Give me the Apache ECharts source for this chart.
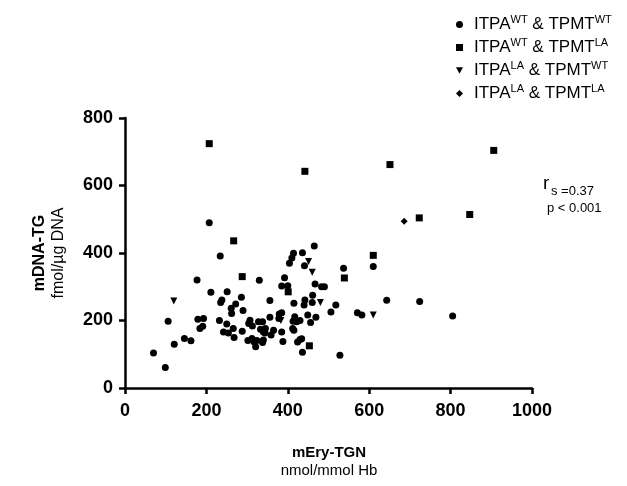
<!DOCTYPE html>
<html>
<head>
<meta charset="utf-8">
<script src="https://cdn.jsdelivr.net/npm/echarts@6/dist/echarts.min.js"></script>
<style>
  html, body { margin: 0; padding: 0; background: #fff; }
  #chart { width: 627px; height: 486px; }
</style>
</head>
<body>
<div id="chart"></div>
<script>
// ITPA WT & TPMT WT  [mEry-TGN, mDNA-TG]
const wtWt = [
  [70, 104], [99, 61], [106, 198], [121, 130], [146, 147], [162, 140], [177, 320], [179, 204],
  [193, 206], [184, 176], [191, 183], [207, 490], [211, 284], [234, 391], [238, 261], [235, 253],
  [251, 285], [232, 200], [250, 190], [242, 166], [254, 163], [268, 150], [266, 176], [261, 236],
  [262, 221], [272, 249], [286, 269], [290, 230], [288, 168], [307, 201], [304, 191], [313, 184],
  [302, 141], [312, 147], [317, 137], [321, 122], [324, 141], [338, 135], [340, 142], [330, 319],
  [328, 196], [338, 196], [333, 174], [340, 166], [345, 176], [344, 163], [356, 259], [356, 210],
  [359, 157], [365, 171], [379, 219], [378, 206], [385, 223], [385, 166], [388, 138], [385, 302],
  [392, 327], [400, 303], [415, 251], [413, 198], [417, 211], [415, 171], [412, 176], [424, 136],
  [404, 370], [410, 385], [414, 399], [436, 401], [465, 421], [441, 362], [537, 355], [610, 360],
  [467, 308], [483, 300], [490, 300], [461, 275], [442, 261], [440, 246], [460, 253], [518, 246],
  [506, 225], [643, 260], [724, 256], [805, 213], [571, 223], [582, 216], [449, 216], [469, 210],
  [430, 200], [422, 196], [456, 194], [434, 146], [430, 144], [436, 106], [528, 97]
];
// ITPA WT & TPMT LA
const wtLa = [
  [207, 724], [267, 436], [288, 330], [401, 285], [442, 642], [651, 662], [906, 704],
  [723, 504], [847, 514], [610, 393], [539, 326], [453, 125]
];
// ITPA LA & TPMT WT
const laWt = [[120, 258], [383, 200], [451, 375], [460, 343], [480, 253], [610, 216]];
// ITPA LA & TPMT LA
const laLa = [[686, 494]];

const xTicks = [0, 1000, 200];
const yTicks = [0, 800, 200];

const chart = echarts.init(document.getElementById("chart"), null, { renderer: "canvas" });

const fontFam = "'Liberation Sans', Arial, sans-serif";
const triDown = "path://M0,0L10,0L5,9Z";

// legend labels with superscripts
const legendNames = {
  wtWt: "{g|}{n|ITPA}{s|WT}{n| & TPMT}{s|WT}",
  wtLa: "{g|}{n|ITPA}{s|WT}{n| & TPMT}{s|LA}",
  laWt: "{g|}{n|ITPA}{s|LA}{n| & TPMT}{s|WT}",
  laLa: "{g|}{n|ITPA}{s|LA}{n| & TPMT}{s|LA}",
};

const option = {
  backgroundColor: "#fff",
  animation: false,
  textStyle: { fontFamily: fontFam },
  grid: { left: 125, right: 95, top: 118, bottom: 98 },
  legend: {
    orient: "vertical",
    left: 451,
    top: 9,
    itemWidth: 7,
    itemHeight: 7,
    itemGap: 4,
    data: [
      { name: "wtWt", icon: "circle" },
      { name: "wtLa", icon: "rect" },
      { name: "laWt", icon: triDown },
      { name: "laLa", icon: "diamond" },
    ],
    formatter: (name) => legendNames[name],
    textStyle: {
      color: "#000",
      rich: {
        g: { width: 6 },
        n: { fontSize: 17, color: "#000", fontFamily: fontFam, lineHeight: 21 },
        s: { fontSize: 11, color: "#000", fontFamily: fontFam, verticalAlign: "top", lineHeight: 21, padding: [0, 0, 8, 0] },
      },
    },
  },
  xAxis: {
    type: "value",
    min: xTicks[0],
    max: xTicks[1],
    interval: xTicks[2],
    axisLine: { show: true, lineStyle: { color: "#000", width: 2.5 } },
    axisTick: { show: true, length: 6, lineStyle: { color: "#000", width: 2.5 } },
    axisLabel: {
      color: "#000", fontSize: 18, fontWeight: "bold", margin: 14, fontFamily: fontFam,
      formatter: (v) => String(v),
    },
    splitLine: { show: false },
  },
  yAxis: {
    type: "value",
    min: yTicks[0],
    max: yTicks[1],
    interval: yTicks[2],
    axisLine: { show: true, lineStyle: { color: "#000", width: 2.5 } },
    axisTick: { show: true, length: 6, lineStyle: { color: "#000", width: 2.5 } },
    axisLabel: {
      color: "#000", fontSize: 18, fontWeight: "bold", margin: 12, fontFamily: fontFam,
      formatter: (v) => String(v),
    },
    splitLine: { show: false },
  },
  series: [
    { name: "wtWt", type: "scatter", data: wtWt, symbol: "circle", symbolSize: 7, itemStyle: { color: "#000", opacity: 1 } },
    { name: "wtLa", type: "scatter", data: wtLa, symbol: "rect", symbolSize: 7, itemStyle: { color: "#000", opacity: 1 } },
    { name: "laWt", type: "scatter", data: laWt, symbol: triDown, symbolSize: [7, 7], itemStyle: { color: "#000", opacity: 1 } },
    { name: "laLa", type: "scatter", data: laLa, symbol: "diamond", symbolSize: 7, itemStyle: { color: "#000", opacity: 1 } },
  ],
  graphic: [
    // y axis title
    {
      type: "text", x: 40, y: 253, rotation: Math.PI / 2,
      style: { text: "mDNA-TG", font: "bold 16px " + fontFam, fill: "#000", align: "center", verticalAlign: "middle" },
    },
    {
      type: "text", x: 59, y: 253, rotation: Math.PI / 2,
      style: { text: "fmol/µg DNA", font: "16px " + fontFam, fill: "#000", align: "center", verticalAlign: "middle" },
    },
    // x axis title
    {
      type: "text", x: 329, y: 453,
      style: { text: "mEry-TGN", font: "bold 15px " + fontFam, fill: "#000", align: "center", verticalAlign: "middle" },
    },
    {
      type: "text", x: 329, y: 471,
      style: { text: "nmol/mmol Hb", font: "15px " + fontFam, fill: "#000", align: "center", verticalAlign: "middle" },
    },
    // correlation note
    {
      type: "text", x: 543, y: 184,
      style: { text: "r", font: "19px " + fontFam, fill: "#000", align: "left", verticalAlign: "middle" },
    },
    {
      type: "text", x: 551, y: 191,
      style: { text: "s =0.37", font: "13px " + fontFam, fill: "#000", align: "left", verticalAlign: "middle" },
    },
    {
      type: "text", x: 547, y: 208,
      style: { text: "p < 0.001", font: "13px " + fontFam, fill: "#000", align: "left", verticalAlign: "middle" },
    },
  ],
};

chart.setOption(option);
</script>
</body>
</html>
